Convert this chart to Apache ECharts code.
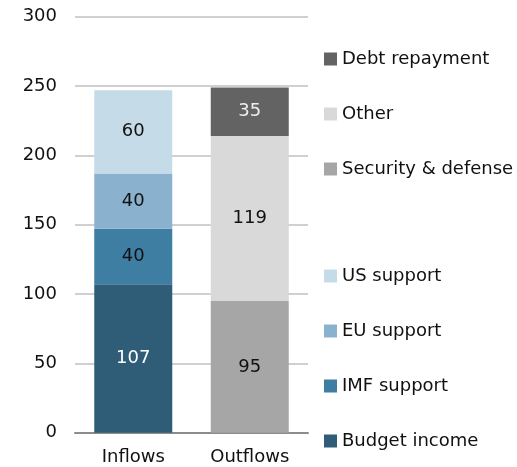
<!DOCTYPE html>
<html>
<head>
<meta charset="utf-8">
<script src="https://cdn.jsdelivr.net/npm/echarts@6/dist/echarts.min.js"></script>
<style>
  html, body { margin: 0; padding: 0; background: #fff; }
  #chart { width: 517px; height: 467px; }
</style>
</head>
<body>
<div id="chart"></div>
<script>
// Categories and stacked values
var categories = ['Inflows', 'Outflows'];

var budgetIncome = [107, '-'];
var imfSupport = [40, '-'];
var euSupport = [40, '-'];
var usSupport = [60, '-'];

var securityDefense = ['-', 95];
var otherOut = ['-', 119];
var debtRepayment = ['-', 35];

var yTicks = { min: 0, max: 300, interval: 50 };

var FONT = 'DejaVu Sans';

function barSeries(name, data, color, labelColor) {
  return {
    name: name,
    type: 'bar',
    stack: 'total',
    data: data,
    barWidth: 78,
    itemStyle: { color: color },
    label: {
      show: true,
      position: 'inside',
      color: labelColor,
      fontFamily: FONT,
      fontSize: 18,
      formatter: function (p) { return p.value; }
    },
    emphasis: { disabled: true }
  };
}

var legendText = { fontFamily: FONT, fontSize: 18, color: '#111', lineHeight: 18 };

var chart = echarts.init(document.getElementById('chart'), null, { renderer: 'canvas' });
chart.setOption({
  animation: false,
  grid: { left: 75, right: 209, top: 16.7, bottom: 34.3 },
  legend: [
    {
      orient: 'vertical', left: 324, top: 50, padding: 0,
      itemWidth: 13, itemHeight: 13, itemGap: 37,
      icon: 'rect', selectedMode: false,
      textStyle: legendText,
      data: ['Debt repayment', 'Other', 'Security & defense']
    },
    {
      orient: 'vertical', left: 324, top: 267, padding: 0,
      itemWidth: 13, itemHeight: 13, itemGap: 37,
      icon: 'rect', selectedMode: false,
      textStyle: legendText,
      data: ['US support', 'EU support', 'IMF support', 'Budget income']
    }
  ],
  xAxis: {
    type: 'category',
    data: categories,
    axisLine: { lineStyle: { color: '#8c8c8c', width: 2 } },
    axisTick: { show: false },
    axisLabel: { fontFamily: FONT, fontSize: 18, color: '#111', margin: 16 }
  },
  yAxis: {
    type: 'value',
    min: yTicks.min, max: yTicks.max, interval: yTicks.interval,
    axisLine: { show: false },
    axisTick: { show: false },
    axisLabel: { fontFamily: FONT, fontSize: 18, color: '#111', margin: 18 },
    splitLine: { lineStyle: { color: '#c0c0c0', width: 1.5 } }
  },
  series: [
    barSeries('Budget income', budgetIncome, '#2f5d78', '#ffffff'),
    barSeries('IMF support', imfSupport, '#3f7ea3', '#111111'),
    barSeries('EU support', euSupport, '#8ab2cf', '#111111'),
    barSeries('US support', usSupport, '#c5dbe8', '#111111'),
    barSeries('Security & defense', securityDefense, '#a6a6a6', '#111111'),
    barSeries('Other', otherOut, '#d9d9d9', '#111111'),
    barSeries('Debt repayment', debtRepayment, '#636363', '#eeeeee')
  ]
});
</script>
</body>
</html>
